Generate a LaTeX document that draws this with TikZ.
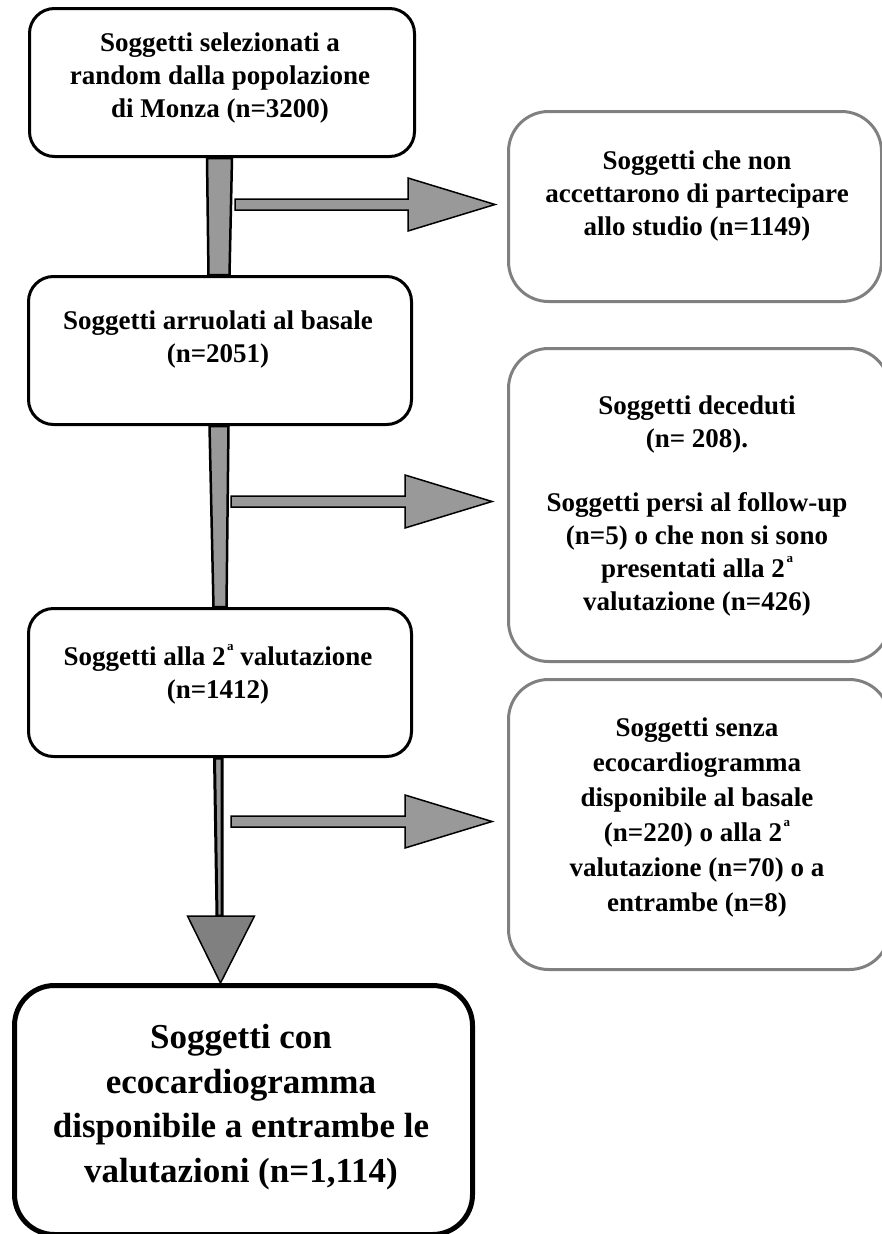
\documentclass[tikz,border=0pt]{standalone}
\usepackage{fontspec}
\setmainfont{Liberation Serif}
\usetikzlibrary{calc,backgrounds}
\definecolor{barfill}{HTML}{999999}
\definecolor{boxgray}{HTML}{808080}
\definecolor{headfill}{HTML}{808080}
\newcommand{\supa}{\kern1.5pt\raisebox{15pt}{\fontsize{13}{13}\selectfont a}}
\newcommand{\fatarr}[2]{%
  \draw[fatarrow] ($(#1 |- #2)+(0,-5.5)$) -- ($(#2)+(-87,-5.5)$) -- ($(#2)+(-87,-26.5)$) -- (#2)
    -- ($(#2)+(-87,26.5)$) -- ($(#2)+(-87,5.5)$) -- ($(#1 |- #2)+(0,5.5)$) -- cycle;}
\begin{document}
\begin{tikzpicture}[x=1pt,y=-1pt,
  mainbox/.style={draw=black, line width=3pt, rounded corners=25pt, fill=white, inner sep=0pt, anchor=north west},
  sidebox/.style={draw=boxgray, line width=3pt, rounded corners=40pt, fill=white, inner sep=0pt, anchor=north west},
  endbox/.style={draw=black, line width=5pt, rounded corners=40pt, fill=white, inner sep=0pt, anchor=north west},
  txt/.style={align=center, font=\bfseries\fontsize{27}{33}\selectfont, inner sep=0pt},
  widetxt/.style={align=center, font=\bfseries\fontsize{27}{35}\selectfont, inner sep=0pt},
  bigtxt/.style={align=center, font=\bfseries\fontsize{35}{44.5}\selectfont, inner sep=0pt},
  bar/.style={draw=black, line width=2.5pt, fill=barfill, line join=miter},
  fatarrow/.style={draw=black, line width=1.5pt, fill=barfill, line join=miter},
  head/.style={draw=black, line width=1.5pt, fill=headfill, line join=miter}]

\useasboundingbox (0,0) rectangle (881,1234);

% main column boxes
\node[mainbox, minimum width=385, minimum height=148] (b1) at (28,7) {};
\node[mainbox, minimum width=383, minimum height=148] (b2) at (27,275) {};
\node[mainbox, minimum width=383, minimum height=148] (b3) at (27,607) {};
\node[endbox, minimum width=458, minimum height=249] (b4) at (12,983) {};

% side boxes
\node[sidebox, minimum width=373, minimum height=190] (r1) at (507,110) {};
\node[sidebox, minimum width=381, minimum height=313] (r2) at (507,347) {};
\node[sidebox, minimum width=381, minimum height=290] (r3) at (507,678) {};

% texts
\node[txt] (t1) at (220,78) {Soggetti selezionati a\\random dalla popolazione\\di Monza (n=3200)};
\node[txt] (t2) at (218,340) {Soggetti arruolati al basale\\(n=2051)};
\node[txt] (t3) at (218,674) {Soggetti alla 2\supa{} valutazione\\(n=1412)};
\node[txt] (tr1) at (697,196) {Soggetti che non\\accettarono di partecipare\\allo studio (n=1149)};
\node[txt] (tr2) at (697,506) {Soggetti deceduti\\(n= 208).\\[31pt]Soggetti persi al follow-up\\(n=5) o che non si sono\\presentati alla 2\supa\\valutazione (n=426)};
\node[widetxt] (tr3) at (697,817) {Soggetti senza\\ecocardiogramma\\disponibile al basale\\(n=220) o alla 2\supa\\valutazione (n=70) o a\\entrambe (n=8)};
\node[bigtxt] (t4) at (241,1107) {Soggetti con\\ecocardiogramma\\disponibile a entrambe le\\valutazioni (n=1,114)};

% connector points
\coordinate (tip4) at ([xshift=-23]b4.north);
\coordinate (h4) at ($(tip4)+(0,-67)$);
\coordinate (s1) at (235,203);
\coordinate (s2) at (231,500);
\coordinate (s3) at (231,820);
\coordinate (e1) at ([xshift=-12,yshift=2]r1.west);
\coordinate (e2) at ([xshift=-15,yshift=3.5]r2.west);
\coordinate (e3) at ([xshift=-15,yshift=3]r3.west);

\begin{scope}[on background layer]
  \draw[bar] ([xshift=-15]b1.south) -- ([xshift=10]b1.south) -- ([xshift=9.5]b2.north) -- ([xshift=-11.5]b2.north) -- cycle;
  \draw[bar] ([xshift=-10.5]b2.south) -- ([xshift=8.5]b2.south) -- ([xshift=6.5]b3.north) -- ([xshift=-6.5]b3.north) -- cycle;
  \draw[bar, line width=3pt] ([xshift=-5.5]b3.south) -- ([xshift=2]b3.south) -- ($(h4)+(1.5,0)$) -- ($(h4)+(-3.5,0)$) -- cycle;
\end{scope}

\draw[head] ($(h4)+(-33,0)$) -- ($(h4)+(34,0)$) -- (tip4) -- cycle;

\fatarr{s1}{e1}
\fatarr{s2}{e2}
\fatarr{s3}{e3}
\end{tikzpicture}
\end{document}
